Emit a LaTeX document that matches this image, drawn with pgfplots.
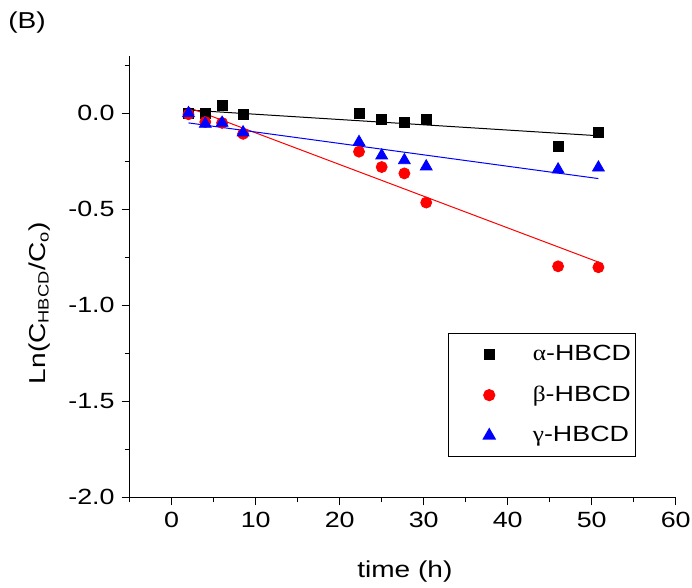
\documentclass[border=0pt]{standalone}
\usepackage{fontspec}
\setmainfont{Liberation Sans}[FakeStretch=1.22]
\newfontfamily\grk{Liberation Serif}[FakeStretch=1.15]
\usepackage{pgfplots}
\pgfplotsset{compat=1.18}
\begin{document}
\begin{tikzpicture}
\begin{axis}[
  scale only axis,
  width=273pt, height=220.8pt,
  xmin=-5, xmax=60, ymin=-2.0, ymax=0.3,
  axis x line*=bottom, axis y line*=left,
  axis line style={line width=0.75pt},
  tick align=outside,
  tick style={line width=0.6pt, black},
  major tick length=4pt, minor tick length=2.5pt,
  xtick={0,10,...,60}, minor xtick={-5,5,15,25,35,45,55},
  ytick={-2,-1.5,-1,-0.5,0}, minor ytick={-1.75,-1.25,-0.75,-0.25,0.25},
  /pgf/number format/assume math mode=true,
  ticklabel style={font=\fontsize{11}{13}\selectfont},
  yticklabel style={/pgf/number format/.cd, fixed, fixed zerofill, precision=1},
  xticklabel style={/pgf/number format/.cd, fixed, precision=0},
  xlabel={time (h)},
  ylabel={Ln(C\textsubscript{\fontsize{7.5}{8}\selectfont HBCD}/C\textsubscript{\fontsize{7.5}{8}\selectfont o})},
  label style={font=\fontsize{11.5}{13}\selectfont},
  xlabel style={at={(axis description cs:0.504,-0.169)}, anchor=center},
  ylabel style={at={(axis description cs:-0.166,0.44)}, anchor=center, rotate=0},
  legend style={at={(axis cs:32.9,-1.144)}, anchor=north west, draw=black, line width=0.6pt,
    font=\fontsize{11}{13}\selectfont, row sep=7pt, inner xsep=0pt, inner ysep=4pt,
    /tikz/every odd column/.append style={column sep=11.5pt}},
  legend image code/.code={\draw[#1, only marks] plot coordinates {(20pt,0pt)}; \path (0pt,0pt) (28pt,0pt);},
  legend cell align=left,
  clip=false,
]
\addplot[black, line width=0.5pt, forget plot] coordinates {(2,0.017) (50.8,-0.117)};
\addplot[red, line width=0.5pt, forget plot] coordinates {(2,0.03) (50.8,-0.775)};
\addplot[blue, line width=0.5pt, forget plot] coordinates {(2,-0.05) (50.8,-0.34)};
\addplot[only marks, mark=square*, mark size=2.5pt, black, mark options={fill=black}] coordinates {
(2,0.0) (4,0.0) (6,0.04) (8.5,-0.005) (22.3,0.0) (25,-0.03) (27.7,-0.05) (30.3,-0.033) (46,-0.17) (50.8,-0.1)};
\addlegendentry{{\grk α}-HBCD}
\addplot[only marks, mark=*, mark size=2.75pt, red, mark options={fill=red}] coordinates {
(2,-0.005) (4,-0.045) (6,-0.05) (8.5,-0.107) (22.3,-0.2) (25,-0.28) (27.7,-0.313) (30.3,-0.465) (46,-0.797) (50.8,-0.802)};
\addlegendentry{{\grk β}-HBCD}
\addplot[only marks, mark=triangle*, mark size=3.4pt, blue, mark options={fill=blue}] coordinates {
(2,0.0) (4,-0.055) (6,-0.05) (8.5,-0.1) (22.3,-0.15) (25,-0.22) (27.7,-0.245) (30.3,-0.277) (46,-0.293) (50.8,-0.283)};
\addlegendentry{{\grk γ}-HBCD}
\node[font=\fontsize{11.5}{13}\selectfont, anchor=center] at (axis description cs:-0.188,1.074) {(B)};
\end{axis}
\pgfresetboundingbox
\path[use as bounding box] (-64.85pt,-45.35pt) rectangle (281.15pt,248.65pt);
\end{tikzpicture}
\end{document}
